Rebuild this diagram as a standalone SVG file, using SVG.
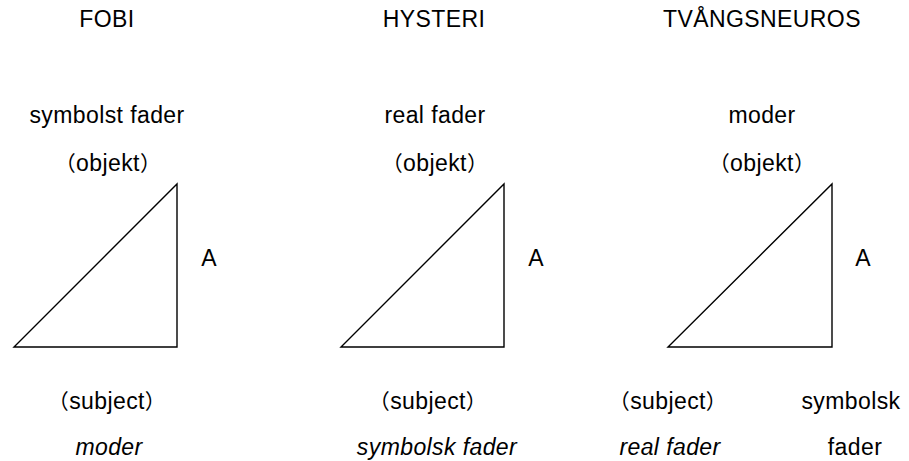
<svg xmlns="http://www.w3.org/2000/svg" width="909" height="461" viewBox="0 0 909 461">
<style>
text{font-family:"Liberation Sans","Noto Sans CJK JP",sans-serif;font-size:23px;fill:#000;text-anchor:middle;letter-spacing:0.4px}
.it{font-style:italic}
.p{font-size:21px}
.tri{fill:none;stroke:#000;stroke-width:1.4;stroke-linejoin:miter}
</style>
<rect width="909" height="461" fill="#fff"/>
<g id="fobi">
<text x="107" y="27">FOBI</text>
<text x="107" y="123">symbolst fader</text>
<text x="108" y="171"><tspan class="p">（</tspan>objekt<tspan class="p">）</tspan></text>
<polygon class="tri" points="177,184 177,347 14,347"/>
<text x="209" y="266">A</text>
<text x="107" y="409"><tspan class="p">（</tspan>subject<tspan class="p">）</tspan></text>
<text x="109" y="455" class="it">moder</text>
</g>
<g id="hysteri">
<text x="434" y="27">HYSTERI</text>
<text x="435" y="123">real fader</text>
<text x="435" y="171"><tspan class="p">（</tspan>objekt<tspan class="p">）</tspan></text>
<polygon class="tri" points="504,184 504,347 341,347"/>
<text x="536" y="266">A</text>
<text x="428" y="409"><tspan class="p">（</tspan>subject<tspan class="p">）</tspan></text>
<text x="437" y="455" class="it">symbolsk fader</text>
</g>
<g id="tvangsneuros">
<text x="762" y="27">TVÅNGSNEUROS</text>
<text x="762" y="123">moder</text>
<text x="762" y="171"><tspan class="p">（</tspan>objekt<tspan class="p">）</tspan></text>
<polygon class="tri" points="832,184 832,347 668,347"/>
<text x="863" y="266">A</text>
<text x="668" y="409"><tspan class="p">（</tspan>subject<tspan class="p">）</tspan></text>
<text x="670" y="455" class="it">real fader</text>
<text x="851" y="409">symbolsk</text>
<text x="855" y="455">fader</text>
</g>
</svg>
